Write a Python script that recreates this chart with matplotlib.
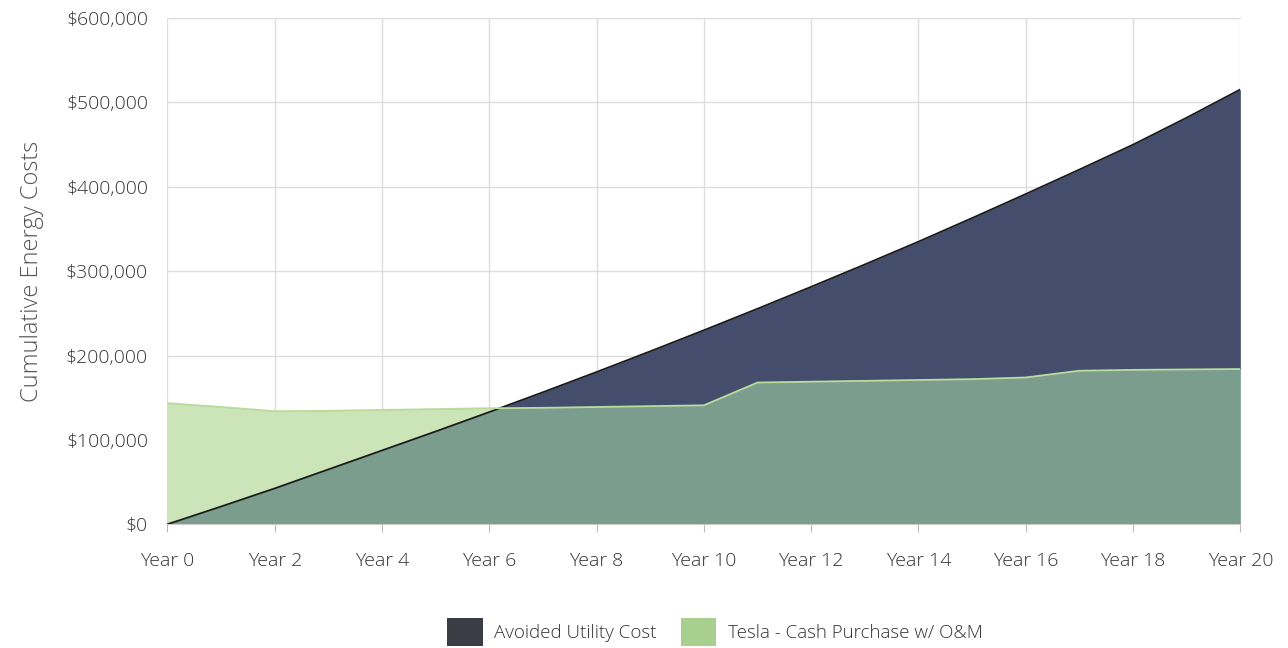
import matplotlib
matplotlib.use("Agg")
import matplotlib.pyplot as plt
import numpy as np
from matplotlib.patches import Patch
from matplotlib.ticker import FuncFormatter

years = list(range(0, 21))
avoided_utility = [0, 21000, 42500, 65000, 87500, 110000, 133000, 156500, 180500, 205000,
                   230000, 255500, 281500, 308000, 335000, 363000, 391500, 420500, 450000,
                   482000, 515500]
tesla_cash = [143500, 139000, 134000, 134500, 135500, 136500, 137500, 138000, 139000, 140000,
              141000, 168000, 169000, 170000, 171000, 172000, 174000, 182000, 183000, 183500, 184000]
xtick_years = list(range(0, 21, 2))
xtick_labels = [f"Year {y}" for y in xtick_years]
yticks = [0, 100000, 200000, 300000, 400000, 500000, 600000]

plt.rcParams['font.family'] = ['Open Sans', 'DejaVu Sans']

fig = plt.figure(figsize=(12.88, 6.48), dpi=100)
ax = fig.add_axes([0.130, 0.191, 0.833, 0.781])

dark = '#444e6c'
overlap = '#7b9d8e'
light_green = '#cbe5b9'
legend_dark = '#3b3d44'
legend_green = '#a9cf8f'

x = np.array(years, dtype=float)
a = np.array(avoided_utility, dtype=float)
t = np.array(tesla_cash, dtype=float)
# full Tesla area in the overlap colour
ax.fill_between(x, 0, t, color=overlap, lw=0, zorder=2)
# part of the Tesla area above the avoided-cost curve: light green only
ax.fill_between(x, a, t, where=t >= a, interpolate=True, color=light_green, lw=0, zorder=2.1)
# part of the avoided-cost area above the Tesla curve: dark only
ax.fill_between(x, t, a, where=a >= t, interpolate=True, color=dark, lw=0, zorder=2.1)
ax.plot(x, a, color='#1a1a1a', lw=1.3, zorder=4)
ax.plot(x, t, color='#b9dc9d', lw=1.3, zorder=4)

ax.set_xlim(0, 20)
ax.set_ylim(0, 600000)
ax.set_xticks(xtick_years)
ax.set_xticklabels(xtick_labels)
ax.set_yticks(yticks)
ax.yaxis.set_major_formatter(FuncFormatter(lambda v, p: f"${v:,.0f}"))

ax.grid(True, color='#dddddd', lw=1, zorder=0)
ax.set_axisbelow(True)
for s in ['left', 'right']:
    ax.spines[s].set_visible(False)
ax.spines['top'].set_color('#dddddd')
ax.spines['bottom'].set_color('#cccccc')
ax.tick_params(axis='both', colors='#bbbbbb', labelcolor='#333333', labelsize=14, length=6)
ax.tick_params(axis='y', length=0, pad=14)
ax.tick_params(axis='x', pad=14)
for lbl in ax.get_xticklabels() + ax.get_yticklabels():
    lbl.set_fontweight('light')

ax.set_ylabel("Cumulative Energy Costs", fontsize=17, color='#555555', labelpad=16, fontweight='light')

handles = [Patch(facecolor=legend_dark, edgecolor='none', label='Avoided Utility Cost'),
           Patch(facecolor=legend_green, edgecolor='none', label='Tesla - Cash Purchase w/ O&M')]
leg = fig.legend(handles=handles, loc='center', bbox_to_anchor=(0.555, 0.025), ncol=2, frameon=False,
                 fontsize=13.5, handlelength=1.9, handleheight=1.9, columnspacing=1.3, handletextpad=0.6,
                 labelcolor='#333333')
for txt in leg.get_texts():
    txt.set_fontweight('light')

fig.savefig('out.png', dpi=100)
